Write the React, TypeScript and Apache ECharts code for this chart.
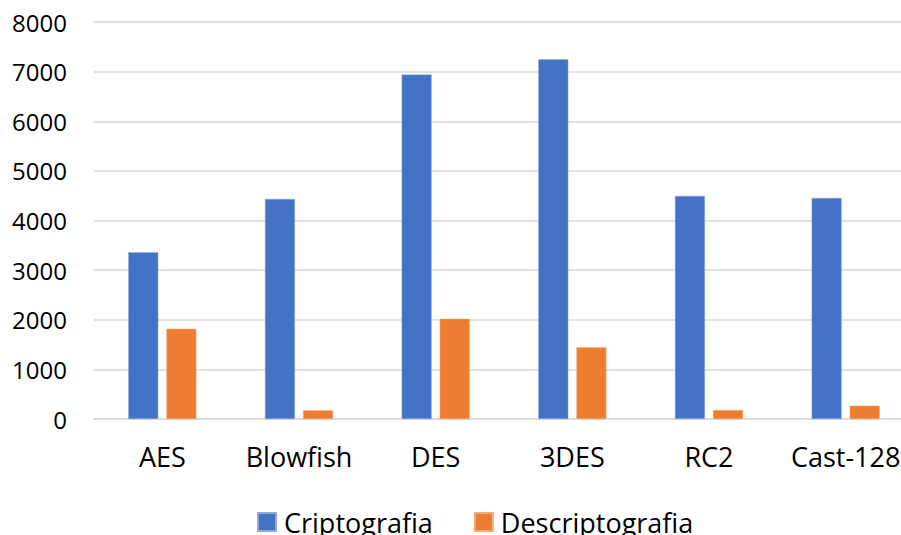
import React, { useEffect, useRef } from "react";
import * as echarts from "echarts";

const categories = ["AES", "Blowfish", "DES", "3DES", "RC2", "Cast-128"];
const criptografia = [3360, 4435, 6940, 7250, 4495, 4455];
const descriptografia = [1820, 175, 2020, 1445, 180, 268];
const seriesNames = ["Criptografia", "Descriptografia"];

const FONT = "'Open Sans', 'Liberation Sans', sans-serif";

export default function App() {
  const ref = useRef<HTMLDivElement>(null);

  useEffect(() => {
    if (!ref.current) return;
    const chart = echarts.init(ref.current, undefined, { renderer: "svg" });
    chart.setOption({
      animation: false,
      backgroundColor: "#ffffff",
      grid: { left: 94, top: 22, width: 820, height: 397, containLabel: false },
      legend: {
        left: 257,
        top: 507,
        padding: 0,
        itemWidth: 18,
        itemHeight: 18,
        itemGap: 41,
        icon: "rect",
        textStyle: {
          fontFamily: FONT,
          fontSize: 27,
          lineHeight: 30,
          color: "#000000",
          padding: [0, 0, 0, 3],
        },
        data: seriesNames,
      },
      xAxis: {
        type: "category",
        data: categories,
        axisTick: { show: false },
        axisLine: { show: true, lineStyle: { color: "#d9d9d9", width: 1.5 } },
        axisLabel: { fontFamily: FONT, fontSize: 27, color: "#000000", margin: 24, interval: 0 },
      },
      yAxis: {
        type: "value",
        min: 0,
        max: 8000,
        interval: 1000,
        axisLine: { show: false },
        axisTick: { show: false },
        splitLine: { show: true, lineStyle: { color: "#d9d9d9", width: 1.5 } },
        axisLabel: {
          fontFamily: FONT,
          fontSize: 24,
          color: "#000000",
          margin: 27,
          formatter: (v: number) => String(v),
        },
      },
      series: [
        {
          name: seriesNames[0],
          type: "bar",
          data: criptografia,
          barWidth: 30,
          barGap: "27%",
          itemStyle: { color: "#4472C4", borderColor: "#8fa9dc", borderWidth: 0.5 },
        },
        {
          name: seriesNames[1],
          type: "bar",
          data: descriptografia,
          barWidth: 30,
          barGap: "27%",
          itemStyle: { color: "#ED7D31", borderColor: "#f4ad7d", borderWidth: 0.5 },
        },
      ],
    });
    return () => chart.dispose();
  }, []);

  return (
    <div style={{ width: 901, height: 535, position: "absolute", left: 0, top: 0, overflow: "hidden" }}>
      <div ref={ref} style={{ width: 914, height: 535 }} />
    </div>
  );
}
